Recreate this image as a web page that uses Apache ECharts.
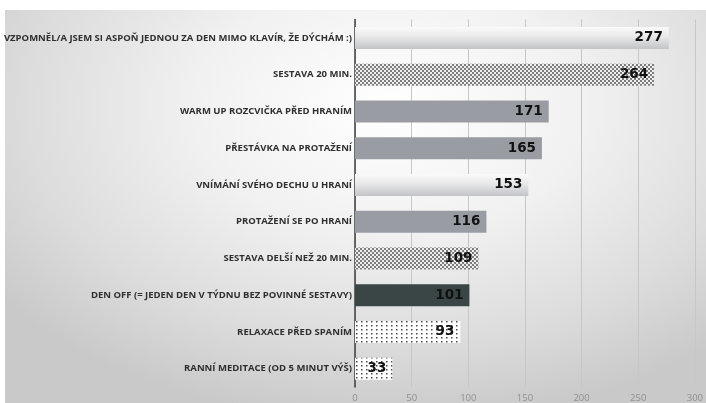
<!DOCTYPE html>
<html>
<head>
<meta charset="utf-8">
<script src="https://cdn.jsdelivr.net/npm/echarts@6/dist/echarts.min.js"></script>
<style>
  html, body { margin: 0; padding: 0; background: #ffffff; }
  #wrap { position: relative; width: 706px; height: 403px; overflow: hidden; background: #ffffff; }
  #panel {
    position: absolute; left: 5px; top: 10px; right: 0; bottom: 0;
    background: radial-gradient(ellipse 70% 80% at 55% 25%, #ffffff 0%, #f1f1f1 40%, #dcdcdc 75%, #c9c9c9 100%);
  }
  #chart { position: absolute; left: 0; top: 0; width: 706px; height: 403px; }
</style>
</head>
<body>
<div id="wrap">
  <div id="panel"></div>
  <div id="chart"></div>
</div>
<script>
// Activities and how many times each was ticked off
const categories = [
  'VZPOMNĚL/A JSEM SI ASPOŇ JEDNOU ZA DEN MIMO KLAVÍR, ŽE DÝCHÁM :)',
  'SESTAVA 20 MIN.',
  'WARM UP ROZCVIČKA PŘED HRANÍM',
  'PŘESTÁVKA NA PROTAŽENÍ',
  'VNÍMÁNÍ SVÉHO DECHU U HRANÍ',
  'PROTAŽENÍ SE PO HRANÍ',
  'SESTAVA DELŠÍ NEŽ 20 MIN.',
  'DEN OFF (= JEDEN DEN V TÝDNU BEZ POVINNÉ SESTAVY)',
  'RELAXACE PŘED SPANÍM',
  'RANNÍ MEDITACE (OD 5 MINUT VÝŠ)'
];
const counts = [277, 264, 171, 165, 153, 116, 109, 101, 93, 33];
const axisTicks = [0, 50, 100, 150, 200, 250, 300];

// Small repeating canvas tiles used as bar fills
function makeTile(w, h, bg, fg, cells) {
  const c = document.createElement('canvas');
  c.width = w; c.height = h;
  const ctx = c.getContext('2d');
  ctx.fillStyle = bg; ctx.fillRect(0, 0, w, h);
  ctx.fillStyle = fg;
  cells.forEach(([x, y, s]) => ctx.fillRect(x, y, s, s));
  return c;
}
const checkerTile = makeTile(4, 4, '#eeeeee', '#7d7d7d', [[0, 0, 2], [2, 2, 2]]);
const dotTile = makeTile(5, 4, '#ffffff', '#4a4a4a', [[1, 1, 1.5]]);

const fills = {
  sheen: {
    type: 'linear', x: 0, y: 0, x2: 0, y2: 1,
    colorStops: [
      { offset: 0, color: '#fbfbfb' },
      { offset: 0.45, color: '#e8e8e9' },
      { offset: 1, color: '#c3c4c6' }
    ]
  },
  checker: { image: checkerTile, repeat: 'repeat' },
  solid: '#999da3',
  dark: '#3a4646',
  dots: { image: dotTile, repeat: 'repeat' }
};
const fillOrder = ['sheen', 'checker', 'solid', 'solid', 'sheen', 'solid', 'checker', 'dark', 'dots', 'dots'];

const chart = echarts.init(document.getElementById('chart'), null, { renderer: 'canvas' });
chart.setOption({
  animation: false,
  backgroundColor: 'transparent',
  grid: { left: 355, right: 5, top: 19.5, bottom: 15.5, containLabel: false },
  xAxis: {
    type: 'value',
    min: axisTicks[0],
    max: axisTicks[axisTicks.length - 1],
    interval: axisTicks[1] - axisTicks[0],
    axisLine: { show: false },
    axisTick: { show: false },
    axisLabel: { color: '#8f8f8f', fontSize: 9.5, fontFamily: 'Open Sans', margin: 6 },
    splitLine: { show: true, lineStyle: { color: '#c6c7c8', width: 1 } }
  },
  yAxis: {
    type: 'category',
    inverse: true,
    data: categories,
    axisLine: { show: true, lineStyle: { color: '#3d3d3d', width: 1.5 } },
    axisTick: { show: false },
    axisLabel: {
      color: '#2f2f2f', fontSize: 9.5, fontWeight: 'bold', fontFamily: 'Open Sans', margin: 3
    }
  },
  series: [{
    type: 'bar',
    barWidth: 22,
    data: counts.map((v, i) => ({ value: v, itemStyle: { color: fills[fillOrder[i]] } })),
    label: {
      show: true,
      position: 'insideRight',
      distance: 6,
      color: '#111111',
      fontSize: 13.5,
      fontWeight: 'bold',
      fontFamily: 'DejaVu Sans'
    }
  }]
});
</script>
</body>
</html>
